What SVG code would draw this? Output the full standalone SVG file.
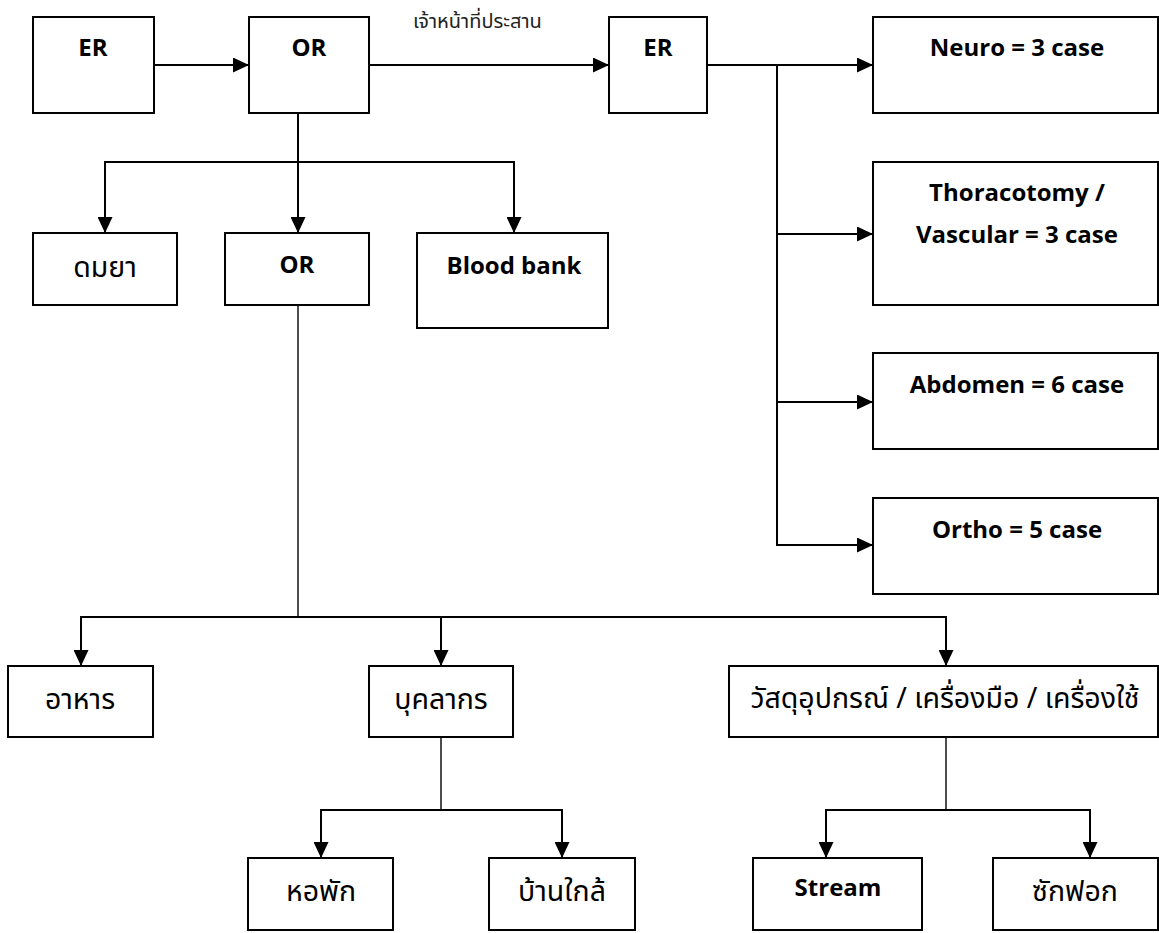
<svg xmlns="http://www.w3.org/2000/svg" width="1159" height="933" viewBox="0 0 1159 933">
  <style>
    .box { fill: #fff; stroke: #000; stroke-width: 2; }
    .en { font-family: "Open Sans", Lato, "Liberation Sans", sans-serif; font-weight: bold; font-size: 24px; fill: #000; text-anchor: middle; }
    .th { font-family: "Noto Sans Thai", "Tahoma", "Loma", "Garuda", "Noto Sans", sans-serif; font-size: 28.5px; fill: #000; text-anchor: middle; }
    .small { font-family: "Noto Sans Thai", "Tahoma", "Loma", "Noto Sans", sans-serif; font-size: 20px; fill: #222; }
    .wire { fill: none; stroke: #000; stroke-width: 2; }
    .thin { fill: none; stroke: #000; stroke-width: 1.4; }
    .arrow { fill: none; stroke: #000; stroke-width: 2; marker-end: url(#head); }
  </style>
  <defs>
    <marker id="head" markerUnits="userSpaceOnUse" markerWidth="16" markerHeight="15" refX="16" refY="7.5" orient="auto">
      <path d="M0,0 L16,7.5 L0,15 Z" fill="#000"/>
    </marker>
  </defs>

  <rect width="1159" height="933" fill="#fff"/>

  <!-- connectors -->
  <g id="connectors">
    <!-- top row -->
    <line class="arrow" x1="154" y1="65" x2="249" y2="65"/>
    <line class="arrow" x1="369" y1="65" x2="609" y2="65"/>
    <line class="arrow" x1="707" y1="65" x2="873" y2="65"/>
    <!-- case list trunk -->
    <line class="wire" x1="777" y1="65" x2="777" y2="546"/>
    <line class="arrow" x1="776" y1="234" x2="873" y2="234"/>
    <line class="arrow" x1="776" y1="402" x2="873" y2="402"/>
    <line class="arrow" x1="776" y1="545" x2="873" y2="545"/>
    <!-- OR split -->
    <line class="arrow" x1="298" y1="113" x2="298" y2="233"/>
    <polyline class="wire" points="105,178 105,162 514,162 514,178"/>
    <line class="arrow" x1="105" y1="162" x2="105" y2="233"/>
    <line class="arrow" x1="514" y1="162" x2="514" y2="233"/>
    <!-- OR to resources -->
    <line class="thin" x1="298" y1="305" x2="298" y2="617"/>
    <line class="wire" x1="80" y1="617" x2="946" y2="617"/>
    <line class="arrow" x1="81" y1="616" x2="81" y2="666"/>
    <line class="arrow" x1="441" y1="616" x2="441" y2="666"/>
    <line class="arrow" x1="946" y1="616" x2="946" y2="666"/>
    <!-- staff -->
    <line class="thin" x1="441" y1="737" x2="441" y2="810"/>
    <line class="wire" x1="320" y1="810" x2="563" y2="810"/>
    <line class="arrow" x1="321" y1="809" x2="321" y2="858"/>
    <line class="arrow" x1="562" y1="809" x2="562" y2="858"/>
    <!-- supplies -->
    <line class="thin" x1="946" y1="737" x2="946" y2="810"/>
    <line class="wire" x1="825" y1="810" x2="1091" y2="810"/>
    <line class="arrow" x1="826" y1="809" x2="826" y2="858"/>
    <line class="arrow" x1="1090" y1="809" x2="1090" y2="858"/>
  </g>

  <text class="small" x="413" y="28">เจ้าหน้าที่ประสาน</text>

  <!-- nodes -->
  <g id="er1"><rect class="box" x="33" y="17" width="121" height="96"/><text class="en" x="93" y="56">ER</text></g>
  <g id="or1"><rect class="box" x="249" y="17" width="120" height="96"/><text class="en" x="309" y="56">OR</text></g>
  <g id="er2"><rect class="box" x="609" y="17" width="98" height="96"/><text class="en" x="658" y="56">ER</text></g>

  <g id="neuro"><rect class="box" x="873" y="17" width="285" height="96"/><text class="en" x="1017" y="56">Neuro = 3 case</text></g>
  <g id="thoracotomy"><rect class="box" x="873" y="162" width="285" height="143"/><text class="en" x="1017" y="201">Thoracotomy /</text><text class="en" x="1017" y="243">Vascular = 3 case</text></g>
  <g id="abdomen"><rect class="box" x="873" y="353" width="285" height="96"/><text class="en" x="1017" y="393">Abdomen = 6 case</text></g>
  <g id="ortho"><rect class="box" x="873" y="498" width="285" height="96"/><text class="en" x="1017" y="538">Ortho = 5 case</text></g>

  <g id="anesthesia"><rect class="box" x="33" y="233" width="144" height="72"/><text class="th" x="105" y="277">ดมยา</text></g>
  <g id="or2"><rect class="box" x="225" y="233" width="144" height="72"/><text class="en" x="297" y="273">OR</text></g>
  <g id="bloodbank"><rect class="box" x="417" y="233" width="191" height="95"/><text class="en" x="514" y="274">Blood bank</text></g>

  <g id="food"><rect class="box" x="8" y="666" width="145" height="71"/><text class="th" x="80" y="709">อาหาร</text></g>
  <g id="staff"><rect class="box" x="369" y="666" width="144" height="71"/><text class="th" x="441" y="709">บุคลากร</text></g>
  <g id="supplies"><rect class="box" x="729" y="666" width="429" height="71"/><text class="th" x="945" y="708">วัสดุอุปกรณ์ / เครื่องมือ / เครื่องใช้</text></g>

  <g id="dorm"><rect class="box" x="248" y="858" width="145" height="72"/><text class="th" x="321" y="901">หอพัก</text></g>
  <g id="nearby"><rect class="box" x="489" y="858" width="146" height="72"/><text class="th" x="562" y="901">บ้านใกล้</text></g>
  <g id="stream"><rect class="box" x="753" y="858" width="169" height="72"/><text class="en" x="838" y="896">Stream</text></g>
  <g id="laundry"><rect class="box" x="993" y="858" width="165" height="72"/><text class="th" x="1075" y="901">ซักฟอก</text></g>
</svg>
